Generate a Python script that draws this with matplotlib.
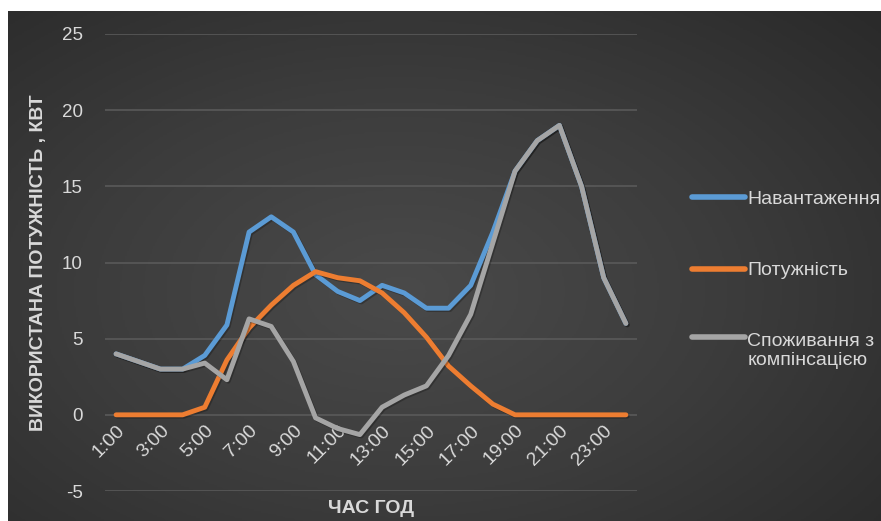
import numpy as np
import matplotlib
matplotlib.use('Agg')
import matplotlib.pyplot as plt
import matplotlib.patheffects as pe
from matplotlib.colors import LinearSegmentedColormap

# hourly data
hours = [f'{h}:00' for h in range(1, 25)]
load = [4, 3.5, 3, 3, 3.9, 5.9, 12, 13, 12, 9.2, 8.1, 7.5,
        8.5, 8, 7, 7, 8.5, 12, 16, 18, 19, 15, 9, 6]
power = [0, 0, 0, 0, 0.5, 3.6, 5.7, 7.2, 8.5, 9.4, 9.0, 8.8,
         8.0, 6.7, 5.1, 3.2, 1.9, 0.7, 0, 0, 0, 0, 0, 0]
compensated = [4, 3.5, 3, 3, 3.4, 2.3, 6.3, 5.8, 3.5, -0.2, -0.9, -1.3,
               0.5, 1.3, 1.9, 3.9, 6.6, 11.3, 16, 18, 19, 15, 9, 6]
series_names = ['Навантаження', 'Потужність', 'Споживання з\nкомпінсацією']
series_colors = ['#5B9BD5', '#ED7D31', '#A5A5A5']
yticks = [-5, 0, 5, 10, 15, 20, 25]

TEXT = '#d9d9d9'
W, H = 881, 521
plt.rcParams['font.family'] = ['Liberation Sans', 'DejaVu Sans']
plt.rcParams['axes.unicode_minus'] = False

fig = plt.figure(figsize=(W / 100, H / 100), dpi=100, facecolor='white')

# dark radial background of the chart area
bg = fig.add_axes([8 / W, 0, (W - 8) / W, (H - 11) / H], zorder=-5)
yy, xx = np.mgrid[0:1:300j, 0:1:500j]
dist = np.sqrt(((xx - 0.45) / 0.75) ** 2 + ((yy - 0.45) / 0.8) ** 2)
cmap = LinearSegmentedColormap.from_list('bg', ['#4a4a4a', '#3c3c3c', '#2a2a2a'])
bg.imshow(np.clip(dist, 0, 1), cmap=cmap, vmin=0, vmax=1, aspect='auto',
          extent=(0, 1, 0, 1), origin='lower')
bg.set_axis_off()

ax = fig.add_axes([105 / W, 1 - 491 / H, (637 - 105) / W, (491 - 34) / H])
ax.set_facecolor('none')

x = np.arange(len(hours))
shadow = [pe.SimpleLineShadow(offset=(1, -1), shadow_color='black', alpha=0.25),
          pe.Normal()]
for vals, name, col in zip([load, power, compensated], series_names, series_colors):
    ax.plot(x, vals, color=col, linewidth=3.5, label=name,
            solid_joinstyle='round', solid_capstyle='round', path_effects=shadow)

ax.set_xlim(-0.5, len(hours) - 0.5)
ax.set_ylim(-5, 25)
ax.set_yticks(yticks)
ax.grid(axis='y', color='#5c5c5c', linewidth=1.1)
ax.set_axisbelow(True)
for s in ax.spines.values():
    s.set_visible(False)

# category labels sit at the value 0 like in Excel
ax.spines['bottom'].set_position(('data', 0))
ax.set_xticks(x[::2])
ax.set_xticklabels(hours[::2], rotation=45, ha='right', va='top',
                   rotation_mode='anchor')
ax.tick_params(axis='x', length=0, pad=5, labelsize=14, labelcolor=TEXT)
ax.tick_params(axis='y', length=0, pad=16, labelsize=13.5, labelcolor=TEXT)

ax.set_ylabel('ВИКОРИСТАНА ПОТУЖНІСТЬ , КВТ', fontsize=14, fontweight='bold',
              color=TEXT)
ax.set_xlabel('ЧАС ГОД', fontsize=14, fontweight='bold', color=TEXT)
ax.xaxis.set_label_coords(0.5, -0.02)
ax.yaxis.set_label_coords(-0.109, 0.5)

leg = fig.legend(loc='center left', bbox_to_anchor=(682 / W, 1 - 280 / H),
                 frameon=False, fontsize=14, handlelength=2.75, handletextpad=0.1,
                 labelspacing=2.75, borderpad=0, labelcolor=TEXT)
leg.get_texts()[2].set_linespacing(1.2)
for line in leg.get_lines():
    line.set_linewidth(4)
    line.set_path_effects([pe.Normal()])
# Excel puts the marker next to the first line of a wrapped entry
gray_handle = leg.get_lines()[2]
gray_handle.set_ydata(np.asarray(gray_handle.get_ydata()) + 10)

fig.savefig('out.png', dpi=100, facecolor='white')
